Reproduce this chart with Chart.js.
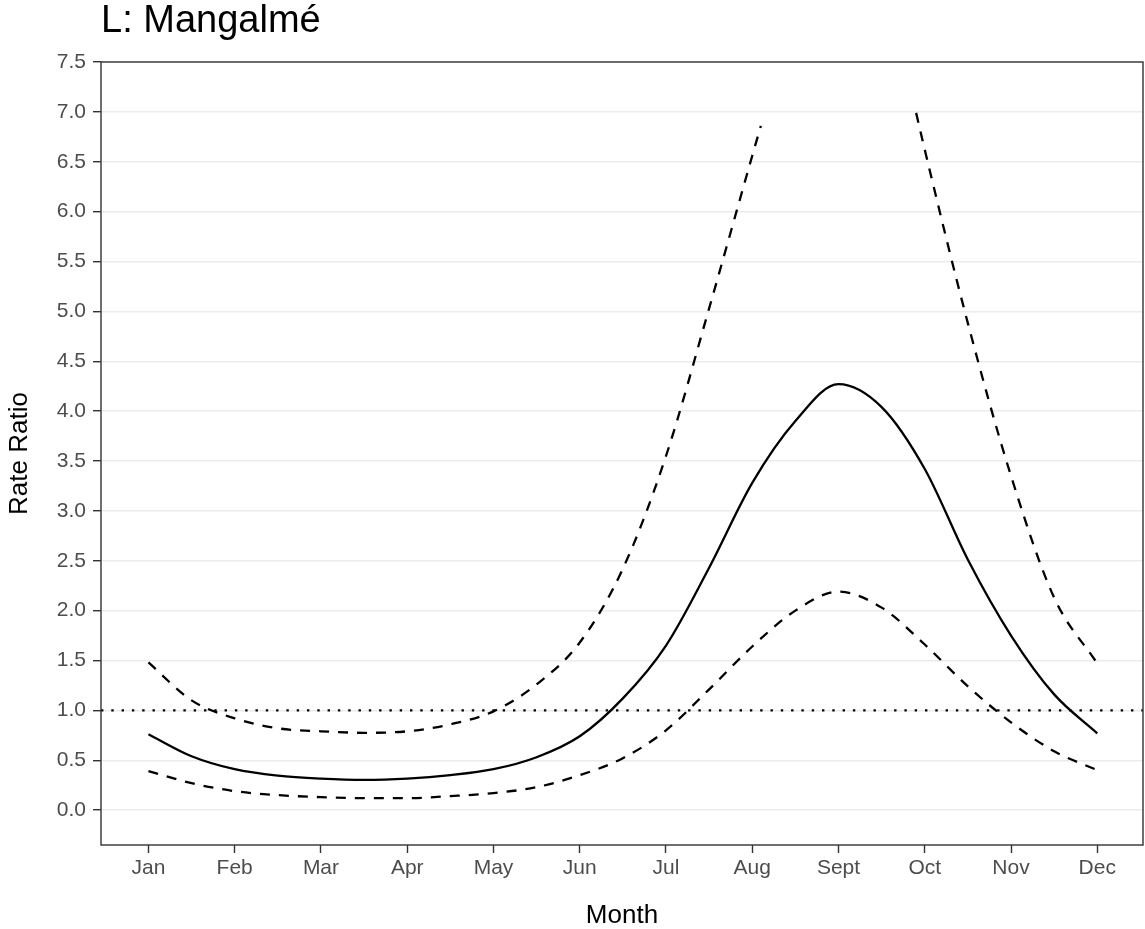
<!DOCTYPE html>
<html>
<head>
<meta charset="utf-8">
<title>L: Mangalmé</title>
<script src="https://cdn.jsdelivr.net/npm/chart.js@4.4.1/dist/chart.umd.min.js"></script>
<style>
  html, body { margin: 0; padding: 0; background: #ffffff; }
  #wrap { width: 1145px; height: 929px; }
</style>
</head>
<body>
<div id="wrap"><canvas id="rateChart" width="1145" height="929"></canvas></div>
<script>
// Seasonal rate ratio with confidence band - Mangalmé

const months = ['Jan', 'Feb', 'Mar', 'Apr', 'May', 'Jun', 'Jul', 'Aug', 'Sept', 'Oct', 'Nov', 'Dec'];

// position in months, 0 = Jan, half-month steps
const monthPos = [0, 0.5, 1, 1.5, 2, 2.5, 3, 3.5, 4, 4.5, 5, 5.5, 6, 6.5, 7, 7.5, 8, 8.5, 9, 9.5, 10, 10.5, 11];

const estimate = [0.76, 0.54, 0.41, 0.345, 0.315, 0.302, 0.315, 0.35, 0.41, 0.53, 0.74, 1.12, 1.65, 2.43, 3.28, 3.90, 4.27, 4.04, 3.42, 2.51, 1.75, 1.16, 0.77];
const lowerCI  = [0.39, 0.27, 0.19, 0.15, 0.13, 0.12, 0.12, 0.14, 0.17, 0.23, 0.35, 0.52, 0.80, 1.21, 1.64, 2.00, 2.19, 2.03, 1.66, 1.24, 0.88, 0.59, 0.40];

// upper limit goes off the scale (> 7) around the peak, so it has its own positions
const upperPos = [0, 0.5, 1, 1.5, 2, 2.5, 3, 3.5, 4, 4.5, 5, 5.5, 6, 6.5, 7, 7.1, 8, 8.9, 9, 9.5, 10, 10.5, 11];
const upperCI  = [1.48, 1.10, 0.92, 0.82, 0.79, 0.775, 0.79, 0.86, 0.99, 1.26, 1.68, 2.42, 3.55, 5.03, 6.56, 6.86, null, 6.99, 6.62, 4.88, 3.35, 2.13, 1.47];

const yTicks = [0, 0.5, 1, 1.5, 2, 2.5, 3, 3.5, 4, 4.5, 5, 5.5, 6, 6.5, 7, 7.5];
const refLevel = 1;

const toPoints = (xs, ys) => xs.map((x, i) => ({ x: x, y: ys[i] }));

const FONT = "'Liberation Sans', Arial, Helvetica, sans-serif";
Chart.defaults.font.family = FONT;

const lineStyle = {
    borderColor: '#000000',
    borderWidth: 2.3,
    pointRadius: 0,
    fill: false,
    cubicInterpolationMode: 'monotone',
    spanGaps: false
};

// reference line at RR = 1, panel border and title
const panelExtras = {
    id: 'panelExtras',
    beforeDatasetsDraw(chart) {
        const { ctx, chartArea: a, scales: { y } } = chart;
        const yRef = y.getPixelForValue(refLevel);
        ctx.save();
        ctx.strokeStyle = '#000000';
        ctx.lineWidth = 2.4;
        ctx.setLineDash([2.4, 7.9]);
        ctx.beginPath();
        ctx.moveTo(a.left, yRef);
        ctx.lineTo(a.right, yRef);
        ctx.stroke();
        ctx.restore();
    },
    afterDraw(chart) {
        const { ctx, chartArea: a } = chart;
        ctx.save();
        ctx.strokeStyle = '#333333';
        ctx.lineWidth = 1.4;
        ctx.strokeRect(a.left, a.top, a.right - a.left, a.bottom - a.top);

        ctx.fillStyle = '#000000';
        ctx.font = '38px ' + FONT;
        ctx.textAlign = 'left';
        ctx.textBaseline = 'alphabetic';
        ctx.fillText('L: Mangalmé', a.left, 32);
        ctx.restore();
    }
};

const config = {
    type: 'line',
    data: {
        datasets: [
            { ...lineStyle, label: 'Rate ratio', data: toPoints(monthPos, estimate) },
            { ...lineStyle, label: 'Lower 95% CI', data: toPoints(monthPos, lowerCI), borderDash: [10, 9] },
            { ...lineStyle, label: 'Upper 95% CI', data: toPoints(upperPos, upperCI), borderDash: [10, 9] }
        ]
    },
    options: {
        responsive: false,
        devicePixelRatio: 1,
        animation: false,
        events: [],
        layout: { padding: { top: 62, right: 2, bottom: 0, left: 0 } },
        plugins: {
            legend: { display: false },
            tooltip: { enabled: false },
            title: { display: false }
        },
        scales: {
            x: {
                type: 'linear',
                min: -0.55,
                max: 11.53,
                afterBuildTicks: (scale) => { scale.ticks = months.map((m, i) => ({ value: i })); },
                afterFit: (scale) => { scale.height = 84; },
                grid: {
                    drawOnChartArea: false,
                    drawTicks: true,
                    tickLength: 8,
                    tickColor: '#333333',
                    tickWidth: 1.4
                },
                border: { display: false },
                ticks: {
                    autoSkip: false,
                    maxRotation: 0,
                    padding: 3,
                    color: '#4D4D4D',
                    font: { size: 21 },
                    callback: (value) => months[value]
                },
                title: {
                    display: true,
                    text: 'Month',
                    color: '#000000',
                    font: { size: 26 },
                    padding: { top: 0, bottom: -2 }
                }
            },
            y: {
                type: 'linear',
                min: -0.35,
                max: 7.5,
                afterBuildTicks: (scale) => { scale.ticks = yTicks.map(v => ({ value: v })); },
                afterFit: (scale) => { scale.width = 101; },
                grid: {
                    color: '#EBEBEB',
                    lineWidth: 1.4,
                    drawTicks: true,
                    tickLength: 8,
                    tickColor: '#333333',
                    tickWidth: 1.4
                },
                border: { display: false },
                ticks: {
                    padding: 7,
                    color: '#4D4D4D',
                    font: { size: 21 },
                    callback: (value) => value.toFixed(1)
                },
                title: {
                    display: true,
                    text: 'Rate Ratio',
                    color: '#000000',
                    font: { size: 26 },
                    padding: { top: 4, bottom: 0 }
                }
            }
        }
    },
    plugins: [panelExtras]
};

const rateChart = new Chart(document.getElementById('rateChart'), config);
</script>
</body>
</html>
